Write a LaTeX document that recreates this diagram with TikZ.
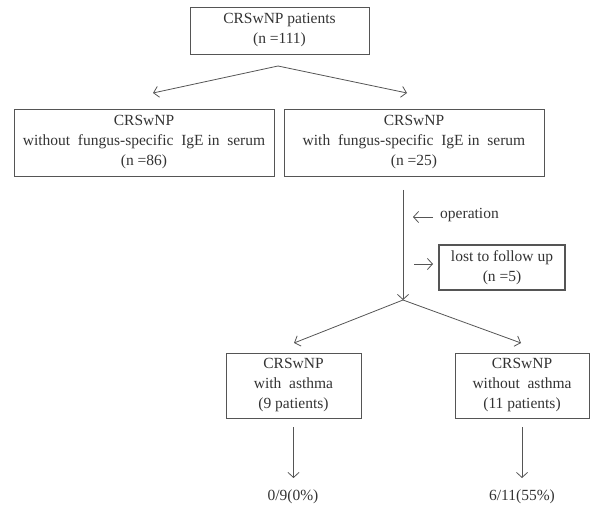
\documentclass[tikz,border=0pt]{standalone}
\usepackage{fontspec}
\setmainfont{Liberation Serif}
\usetikzlibrary{arrows.meta}

\definecolor{inkgray}{HTML}{333333}
\definecolor{linegray}{HTML}{555555}

\begin{document}
\begin{tikzpicture}[%
  x=1pt, y=-1pt,
  >={Straight Barb[length=5pt,width=11pt]},
  font=\fontsize{15.5}{20}\selectfont,
  box/.style={draw=linegray, line width=0.8pt, text=inkgray, align=center,
    inner sep=0pt, anchor=center},
  arr/.style={->, draw=linegray, line width=0.8pt},
  lbl/.style={text=inkgray, inner sep=0pt}
]

  \useasboundingbox (0,0) rectangle (593,510);

  % points where the arrows split or end
  \coordinate (s1) at (278,66);
  \coordinate (s1L) at (153,93);
  \coordinate (s1R) at (407,93);
  \coordinate (t1) at (403,190);
  \coordinate (s2) at (403,300);
  \coordinate (s2L) at (294,343);
  \coordinate (s2R) at (521,343);
  \coordinate (opR) at (433,217);
  \coordinate (opL) at (413,217);
  \coordinate (loL) at (414,264);
  \coordinate (loR) at (433,264);
  \coordinate (a1) at (293.5,427);
  \coordinate (a1e) at (293.5,478);
  \coordinate (a2) at (522,427);
  \coordinate (a2e) at (522,478);

  % boxes
  \node[box, minimum width=179, minimum height=47] (all) at (279.5,30.5)
    {CRSwNP patients\\(n =111)};
  \node[box, minimum width=260, minimum height=67] (neg) at (144,142.5)
    {CRSwNP\\without\ \ fungus-specific\ \ IgE\ in\ \ serum\\(n =86)};
  \node[box, minimum width=260, minimum height=67] (pos) at (414,142.5)
    {CRSwNP\\with\ \ fungus-specific\ \ IgE\ in\ \ serum\\(n =25)};
  \node[box, line width=1.2pt, minimum width=126, minimum height=45] (lost) at (502,267.5)
    {lost to follow up\\(n =5)};
  \node[box, minimum width=135, minimum height=65] (asth) at (293.5,385.5)
    {CRSwNP\\with\ \ asthma\\(9 patients)};
  \node[box, minimum width=134, minimum height=65] (noasth) at (522,385.5)
    {CRSwNP\\without\ \ asthma\\(11 patients)};

  % outcomes
  \node[lbl] (res1) at (293,497) {0/9(0\%)};
  \node[lbl] (res2) at (522,497) {6/11(55\%)};
  \node[lbl, anchor=west] (op) at (440,215) {operation};

  % connectors
  \draw[arr] (s1) -- (s1L);
  \draw[arr] (s1) -- (s1R);
  \draw[arr] (t1) -- (s2);
  \draw[arr] (opR) -- (opL);
  \draw[arr] (loL) -- (loR);
  \draw[arr] (s2) -- (s2L);
  \draw[arr] (s2) -- (s2R);
  \draw[arr] (a1) -- (a1e);
  \draw[arr] (a2) -- (a2e);

\end{tikzpicture}
\end{document}
